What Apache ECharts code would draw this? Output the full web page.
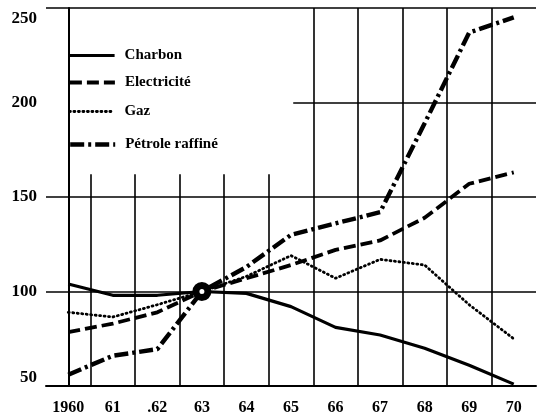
<!DOCTYPE html>
<html>
<head>
<meta charset="utf-8">
<script src="https://cdn.jsdelivr.net/npm/echarts@6/dist/echarts.min.js"></script>
<style>
    html, body { margin: 0; padding: 0; background: #fff; }
    #chart { width: 537px; height: 419px; }
</style>
</head>
<body>
<div id="chart"></div>
<script>
    // values (index 1963 = 100)
    var years = ['1960', '61', '.62', '63', '64', '65', '66', '67', '68', '69', '70'];
    var charbon = [104, 98, 98, 100, 99, 92, 81, 77, 70, 61, 51];
    var electricite = [78.5, 83, 89, 100, 107, 114, 122, 127, 139, 157, 163];
    var gaz = [89, 86.5, 93, 100, 108, 119, 107, 117, 114, 93, 75];
    var petrole = [56, 66, 69.5, 100, 113, 130, 136, 142, 189, 237, 245];
    var yTicks = [50, 100, 150, 200, 250];

    var font = 'Liberation Serif';
    var ink = '#000';

    // grid lines of the drawing: [x1, y1, x2, y2] on the hidden value x axis
    var gridLines = [
        [0.5, 162, 0.5, 50], [1.5, 162, 1.5, 50], [2.5, 162, 2.5, 50],
        [3.5, 162, 3.5, 50], [4.5, 162, 4.5, 50],
        [5.5, 250, 5.5, 50], [6.5, 250, 6.5, 50], [7.5, 250, 7.5, 50],
        [8.5, 250, 8.5, 50], [9.5, 250, 9.5, 50],
        [-0.5, 100, 10.5, 100], [-0.5, 150, 10.5, 150],
        [5.05, 200, 10.5, 200], [-0.5, 250, 10.5, 250]
    ];

    function legendAt(name, top, lineWidth) {
        return {
            data: [name],
            left: 63,
            top: top,
            itemWidth: 45,
            itemHeight: 14,
            itemStyle: { opacity: 0 },
            lineStyle: { width: lineWidth },
            textStyle: {
                fontFamily: font, fontWeight: 'bold', fontSize: 15, color: ink,
                padding: [0, 0, 0, 5]
            }
        };
    }

    function yLabel(v) {
        if (v === 250) return '{lo|' + v + '}';
        if (v === 50) return '{hi|' + v + '}';
        return '{n|' + v + '}';
    }

    var labelFont = { fontFamily: font, fontWeight: 'bold', fontSize: 17, color: ink };

    var myChart = echarts.init(document.getElementById('chart'));
    myChart.setOption({
        animation: false,
        backgroundColor: '#fff',
        grid: { left: 46, right: 1, top: 8, bottom: 33 },
        legend: [
            legendAt('Charbon', 43, 3.2),
            legendAt('Electricité', 70, 3.8),
            legendAt('Gaz', 99, 2.8),
            legendAt('Pétrole raffiné', 132, 4.4)
        ],
        xAxis: [{
            type: 'category',
            data: years,
            boundaryGap: true,
            axisLine: { lineStyle: { color: ink, width: 2 } },
            axisTick: { show: false },
            splitLine: { show: false },
            axisLabel: { margin: 14, fontFamily: font, fontWeight: 'bold', fontSize: 16, color: ink }
        }, {
            type: 'value',
            min: -0.5,
            max: 10.5,
            show: false
        }],
        yAxis: {
            type: 'value',
            min: yTicks[0],
            max: yTicks[yTicks.length - 1],
            interval: 50,
            axisLine: { show: true, lineStyle: { color: ink, width: 2 } },
            axisTick: { show: false },
            splitLine: { show: false },
            axisLabel: {
                margin: 9,
                formatter: yLabel,
                rich: {
                    n: labelFont,
                    lo: Object.assign({ padding: [22, 0, 0, 0] }, labelFont),
                    hi: Object.assign({ padding: [0, 0, 16, 0] }, labelFont)
                }
            }
        },
        series: [{
            name: 'grid',
            type: 'line',
            xAxisIndex: 1,
            data: [],
            markLine: {
                silent: true,
                symbol: ['none', 'none'],
                label: { show: false },
                lineStyle: { color: ink, width: 1.6, type: 'solid' },
                data: gridLines.map(function (l) {
                    return [{ coord: [l[0], l[1]] }, { coord: [l[2], l[3]] }];
                })
            }
        }, {
            name: 'Charbon',
            type: 'line',
            data: charbon,
            symbol: 'none',
            z: 3,
            lineStyle: { color: ink, width: 3.2, type: 'solid' },
            itemStyle: { color: ink }
        }, {
            name: 'Electricité',
            type: 'line',
            data: electricite,
            symbol: 'none',
            z: 3,
            lineStyle: { color: ink, width: 3.8, type: [12, 5] },
            itemStyle: { color: ink }
        }, {
            name: 'Gaz',
            type: 'line',
            data: gaz,
            symbol: 'none',
            z: 3,
            lineStyle: { color: ink, width: 2.8, type: [1, 3.5], cap: 'round' },
            itemStyle: { color: ink }
        }, {
            name: 'Pétrole raffiné',
            type: 'line',
            data: petrole,
            symbol: 'none',
            z: 3,
            lineStyle: { color: ink, width: 4.4, type: [14, 4, 3, 4] },
            itemStyle: { color: ink }
        }, {
            name: 'base',
            type: 'scatter',
            data: [['63', 100]],
            symbol: 'circle',
            symbolSize: 12,
            z: 5,
            itemStyle: { color: '#fff', borderColor: ink, borderWidth: 7, opacity: 1 }
        }]
    });
</script>
</body>
</html>
